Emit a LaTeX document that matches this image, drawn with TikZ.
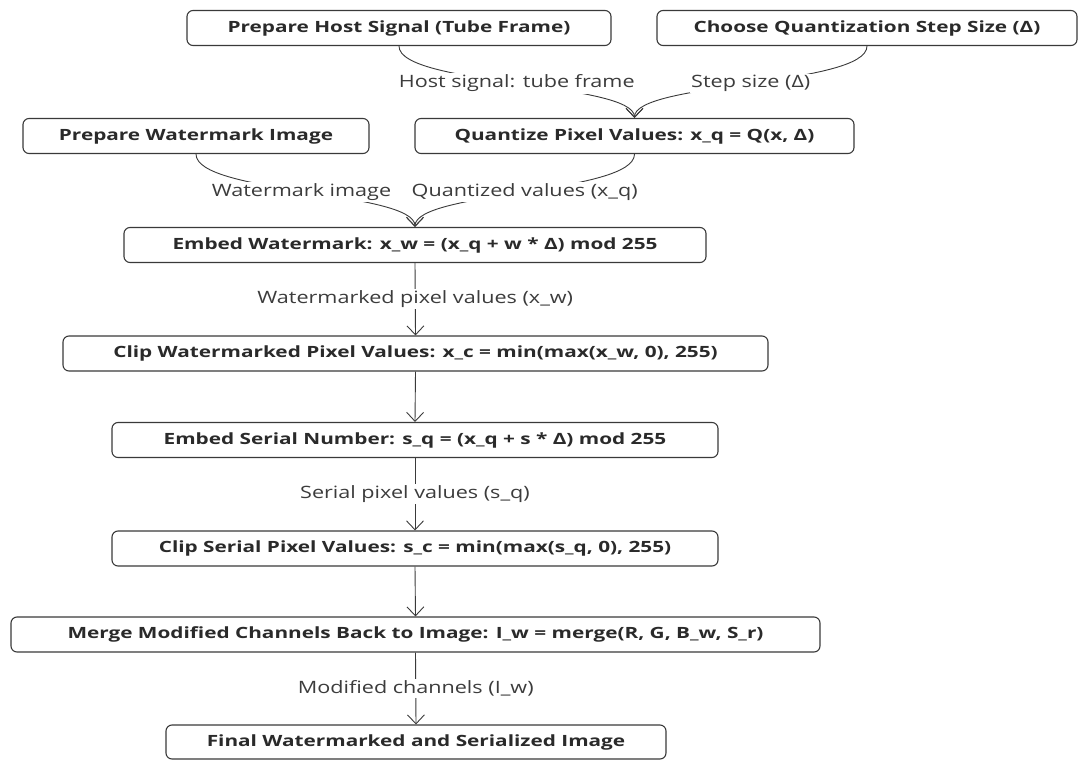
\documentclass[tikz,border=0pt]{standalone}
\usepackage{fontspec}
\setmainfont{Open Sans}
\newfontfamily\boxfont{Open Sans}[FakeStretch=1.34]
\newfontfamily\lblfont{Open Sans}[FakeStretch=1.27]
\usetikzlibrary{arrows.meta}
\definecolor{ink}{HTML}{2A2A2A}
\definecolor{lblink}{HTML}{3C3C3C}
\definecolor{lineg}{HTML}{3A3A3A}
\begin{document}
\begin{tikzpicture}[x=1pt,y=-1pt,
  box/.style={draw=lineg, line width=1.1pt, rounded corners=6pt, fill=white,
    text=ink, font=\boxfont\fontsize{15.5}{18}\selectfont\bfseries, inner sep=0pt, minimum height=35pt},
  conn/.style={draw=lineg, line width=0.9pt, -{Straight Barb[length=9pt,width=17pt,line width=0.9pt]}},
  lbl/.style={fill=white, text=lblink, font=\lblfont\fontsize{17}{20}\selectfont, inner sep=1.5pt}]
\useasboundingbox (0,0) rectangle (1079,760);
\node[box, minimum width=424pt] (b1) at (399,28) {Prepare Host Signal (Tube Frame)};
\node[box, minimum width=420pt] (b2) at (867,28) {Choose Quantization Step Size (Δ)};
\node[box, minimum width=346pt] (b3) at (196,136) {Prepare Watermark Image};
\node[box, minimum width=439pt] (b4) at (634.5,136) {Quantize Pixel Values: x\_q = Q(x, Δ)};
\node[box, minimum width=582pt] (b5) at (415,245) {Embed Watermark: x\_w = (x\_q + w * Δ) mod 255};
\node[box, minimum width=705pt] (b6) at (415.5,353.5) {Clip Watermarked Pixel Values: x\_c = min(max(x\_w, 0), 255)};
\node[box, minimum width=606pt] (b7) at (415,440) {Embed Serial Number: s\_q = (x\_q + s * Δ) mod 255};
\node[box, minimum width=606pt] (b8) at (415,548.5) {Clip Serial Pixel Values: s\_c = min(max(s\_q, 0), 255)};
\node[box, minimum width=809pt] (b9) at (415.5,634.5) {Merge Modified Channels Back to Image: I\_w = merge(R, G, B\_w, S\_r)};
\node[box, minimum width=500pt, minimum height=34pt] (b10) at (416,742) {Final Watermarked and Serialized Image};

\draw[conn] (b1.south) .. controls +(0,40) and +(0,-36) .. (b4.north)
  node[pos=0.5, lbl] (l1) {Host signal: tube frame};
\draw[conn] (b2.south) .. controls +(0,40) and +(0,-36) .. (b4.north)
  node[pos=0.5, lbl] (l2) {Step size (Δ)};
\draw[conn] (b3.south) .. controls +(0,40) and +(0,-36) .. (b5.north)
  node[pos=0.5, lbl, xshift=-4pt] (l3) {Watermark image};
\draw[conn] (b4.south) .. controls +(0,40) and +(0,-36) .. (b5.north)
  node[pos=0.5, lbl] (l4) {Quantized values (x\_q)};
\draw[conn] (b5.south) -- (b6.north) node[midway, lbl] (l5) {Watermarked pixel values (x\_w)};
\draw[conn] (b6.south) -- (b7.north);
\draw[conn] (b7.south) -- (b8.north) node[midway, lbl] (l6) {Serial pixel values (s\_q)};
\draw[conn] (b8.south) -- (b9.north);
\draw[conn] (b9.south) -- (b10.north) node[midway, lbl] (l7) {Modified channels (I\_w)};
\end{tikzpicture}
\end{document}
